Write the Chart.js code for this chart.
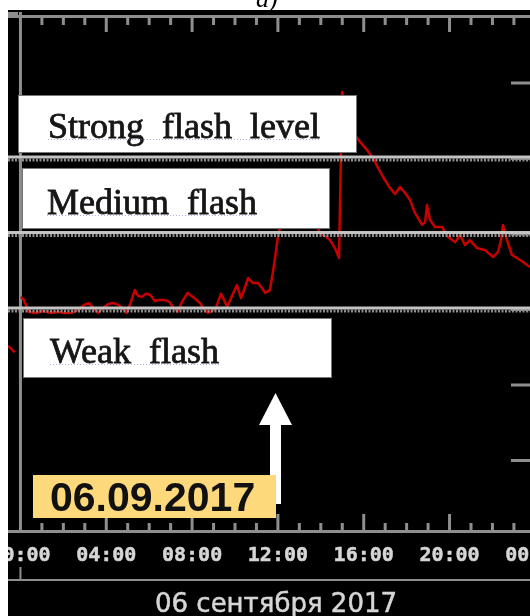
<!DOCTYPE html>
<html>
<head>
<meta charset="utf-8">
<script src="https://cdn.jsdelivr.net/npm/chart.js@4.4.1/dist/chart.umd.min.js"></script>
<style>
  html, body { margin: 0; padding: 0; background: #fff; }
  canvas { display: block; }
</style>
</head>
<body>
<canvas id="fluxChart" width="530" height="616"></canvas>
<script>
// X-ray flux, 06.09.2017 (time of day, hours)
const hours = [-0.58, -0.26, -0.1, 0.02, 0.16, 0.40, 0.72, 1.05, 1.41, 1.75, 2.03, 2.35, 2.68, 2.96, 3.20, 3.43, 3.63,
    3.89, 4.10, 4.31, 4.58, 4.78, 4.95, 5.15, 5.33, 5.48, 5.66, 5.85, 6.04, 6.27, 6.47, 6.69, 6.94, 7.11, 7.32,
    7.53, 7.79, 8.04, 8.37, 8.55, 8.74, 8.93, 9.11, 9.35, 9.49, 9.63, 9.86, 10.09, 10.28, 10.42, 10.61, 10.84,
    11.07, 11.26, 11.40, 11.63, 11.82, 11.96, 12.05, 12.47, 13.03, 13.50, 13.78, 13.96, 14.20, 14.43, 14.66,
    14.85, 14.99, 15.36, 15.83, 16.15, 16.43, 16.67, 16.90, 17.23, 17.46, 17.69, 17.93, 18.16, 18.39, 18.72,
    18.86, 18.95, 19.09, 19.32, 19.65, 19.93, 20.26, 20.49, 20.72, 20.95, 21.28, 21.65, 22.03, 22.26, 22.40,
    22.49, 22.68, 22.91, 23.29, 23.75];
const flux = [3.3e-7, 2.7e-7, null, 1.47e-6, 1.34e-6, 9.3e-7, 9.0e-7, 9.55e-7, 9.0e-7, 9.3e-7, 9.0e-7, 9.0e-7, 9.8e-7,
    1.15e-6, 1.22e-6, 1.02e-6, 9.0e-7, 1.08e-6, 1.18e-6, 1.22e-6, 1.15e-6, 1.02e-6, 9.0e-7, 1.26e-6, 1.81e-6,
    1.51e-6, 1.47e-6, 1.62e-6, 1.57e-6, 1.30e-6, 1.34e-6, 1.34e-6, 1.26e-6, 1.08e-6, 9.3e-7, 1.26e-6, 1.66e-6,
    1.47e-6, 1.22e-6, 1.02e-6, 9.0e-7, 9.55e-7, 1.05e-6, 1.62e-6, 1.34e-6, 1.08e-6, 1.51e-6, 2.11e-6, 1.42e-6,
    1.81e-6, 2.61e-6, 2.24e-6, 2.24e-6, 1.93e-6, 1.66e-6, 1.81e-6, 3.88e-6, 7.6e-6, 1.10e-5, 3.29e-5, 4.46e-5,
    3.3e-5, 1.36e-5, 1.03e-5, 9.4e-6, 8.3e-6, 6.5e-6, 4.8e-6, 7.6e-4, 2.54e-4, 1.66e-4, 1.30e-4, 1.02e-4,
    7.5e-5, 5.69e-5, 4.06e-5, 3.39e-5, 4.2e-5, 3.49e-5, 2.82e-5, 1.9e-5, 1.32e-5, 1.44e-5, 2.42e-5, 1.53e-5,
    1.24e-5, 1.24e-5, 9.1e-6, 7.8e-6, 9.7e-6, 7.15e-6, 8.3e-6, 6.5e-6, 6.14e-6, 4.96e-6, 5.78e-6, 8.3e-6,
    1.32e-5, 8.3e-6, 5.27e-6, 4.53e-6, 3.66e-6];

const tickHours = [0, 4, 8, 12, 16, 20, 24];
const tickLabels = ['00:00', '04:00', '08:00', '12:00', '16:00', '20:00', '00:00'];
const decades = [1e-3, 1e-4, 1e-5, 1e-6, 1e-7, 1e-8];
const levels = [1e-4, 1e-5, 1e-6];
const levelNames = ['Strong  flash  level', 'Medium  flash', 'Weak  flash'];
const dateLabel = '06.09.2017';
const dayTitle = '06 сентября 2017';
const panelTag = 'a)';

const AXIS = '#8e8e8e';

// label boxes: [x, y, w, h, textX, baseline]
const boxes = [
    [18, 95, 339, 58, 48, 138],
    [22, 168, 308, 61, 47, 214],
    [23, 318, 309, 60, 50, 363]
];

const decorPlugin = {
    id: 'decor',
    beforeDraw(chart) {
        const ctx = chart.ctx;
        const xs = chart.scales.x, ys = chart.scales.y;
        const area = chart.chartArea;
        ctx.save();
        ctx.fillStyle = '#000';
        ctx.fillRect(8, 10, 522, 606);

        ctx.fillStyle = AXIS;
        // top and bottom axis lines
        ctx.fillRect(8, 12, 10, 3);
        ctx.fillRect(8, area.top, 522, 3);
        ctx.fillRect(8, area.bottom - 2, 522, 3);
        ctx.fillRect(8, 579, 522, 2);
        const x0 = xs.getPixelForValue(0);
        ctx.fillRect(x0 - 1.5, 12, 3, area.bottom - 12);
        ctx.fillRect(x0 - 1, 567, 2, 13);

        // hour ticks
        for (let h = 1; h <= 24; h++) {
            const px = xs.getPixelForValue(h);
            const major = h % 4 === 0;
            ctx.fillRect(px - 1.5, area.top + 2, 3, major ? 15 : 8);
            ctx.fillRect(px - 1.5, area.bottom - (major ? 18 : 9), 3, major ? 18 : 9);
        }
        // right decade ticks
        decades.forEach(v => {
            const py = ys.getPixelForValue(v);
            ctx.fillRect(511, py - 1.5, 19, 3);
        });

        // hour labels
        ctx.fillStyle = '#d6d6d6';
        ctx.strokeStyle = '#d6d6d6';
        ctx.lineWidth = 0.5;
        ctx.font = 'bold 20px "DejaVu Sans Mono"';
        ctx.textAlign = 'center';
        ctx.textBaseline = 'alphabetic';
        tickHours.forEach((h, i) => {
            const px = xs.getPixelForValue(h);
            ctx.fillText(tickLabels[i], px, 561);
            ctx.strokeText(tickLabels[i], px, 561);
        });
        ctx.font = '26px "DejaVu Sans"';
        ctx.fillText(dayTitle, 276, 612);
        ctx.strokeText(dayTitle, 276, 612);
        ctx.restore();
    },
    afterDatasetsDraw(chart) {
        const ctx = chart.ctx;
        const ys = chart.scales.y;
        ctx.save();

        // flash level lines
        levels.forEach(v => {
            const py = ys.getPixelForValue(v);
            ctx.fillStyle = '#c4c4c4';
            ctx.fillRect(8, py - 3, 522, 3);
            ctx.strokeStyle = '#8c8c8c';
            ctx.lineWidth = 3;
            ctx.setLineDash([2, 1.5]);
            ctx.beginPath();
            ctx.moveTo(8, py + 1.5);
            ctx.lineTo(530, py + 1.5);
            ctx.stroke();
            ctx.setLineDash([]);
        });

        // label boxes
        ctx.font = '36px "Liberation Serif"';
        ctx.textAlign = 'left';
        boxes.forEach((b, i) => {
            ctx.fillStyle = '#fff';
            ctx.fillRect(b[0], b[1], b[2], b[3]);
            ctx.strokeStyle = '#777';
            ctx.lineWidth = 1;
            ctx.strokeRect(b[0] + 0.5, b[1] + 0.5, b[2] - 1, b[3] - 1);
            ctx.fillStyle = '#161616';
            ctx.strokeStyle = '#161616';
            ctx.lineWidth = 0.8;
            ctx.fillText(levelNames[i], b[4], b[5]);
            ctx.strokeText(levelNames[i], b[4], b[5]);
            const w = ctx.measureText(levelNames[i]).width;
            ctx.strokeStyle = 'rgba(110,110,235,0.55)';
            ctx.lineWidth = 1;
            ctx.setLineDash([1, 2]);
            ctx.beginPath();
            ctx.moveTo(b[4], b[5] + 1.5);
            ctx.lineTo(b[4] + w, b[5] + 1.5);
            ctx.stroke();
            ctx.setLineDash([]);
        });

        // arrow
        ctx.fillStyle = '#fff';
        ctx.fillRect(270, 424, 11, 80);
        ctx.beginPath();
        ctx.moveTo(275.5, 393);
        ctx.lineTo(292, 425);
        ctx.lineTo(259, 425);
        ctx.closePath();
        ctx.fill();

        // date label
        ctx.fillStyle = '#fdd97c';
        ctx.fillRect(33, 475, 243, 43);
        ctx.fillStyle = '#111';
        ctx.font = 'bold 41px "Liberation Sans"';
        ctx.fillText(dateLabel, 50, 511);
        ctx.restore();
    },
    afterDraw(chart) {
        const ctx = chart.ctx;
        ctx.save();
        ctx.fillStyle = '#fff';
        ctx.fillRect(0, 0, 8, 616);
        ctx.fillRect(0, 0, 530, 10);
        ctx.fillStyle = '#000';
        ctx.font = 'italic 26px "Liberation Serif"';
        ctx.textAlign = 'left';
        ctx.fillText(panelTag, 256, 7);
        ctx.restore();
    }
};

const points = hours.map((h, i) => ({ x: h, y: flux[i] }));

new Chart(document.getElementById('fluxChart'), {
    type: 'line',
    data: {
        datasets: [{
            data: points,
            borderColor: '#c80000',
            borderWidth: 2.5,
            borderJoinStyle: 'round',
            pointRadius: 0,
            tension: 0,
            spanGaps: false
        }]
    },
    options: {
        responsive: false,
        animation: false,
        devicePixelRatio: 1,
        layout: { padding: { left: 8, top: 15, right: 0, bottom: 84 } },
        plugins: { legend: { display: false }, tooltip: { enabled: false } },
        scales: {
            x: { type: 'linear', min: -0.58, max: 23.75, display: false },
            y: { type: 'logarithmic', min: 1.13e-9, max: 7.96e-3, display: false }
        }
    },
    plugins: [decorPlugin]
});
</script>
</body>
</html>
